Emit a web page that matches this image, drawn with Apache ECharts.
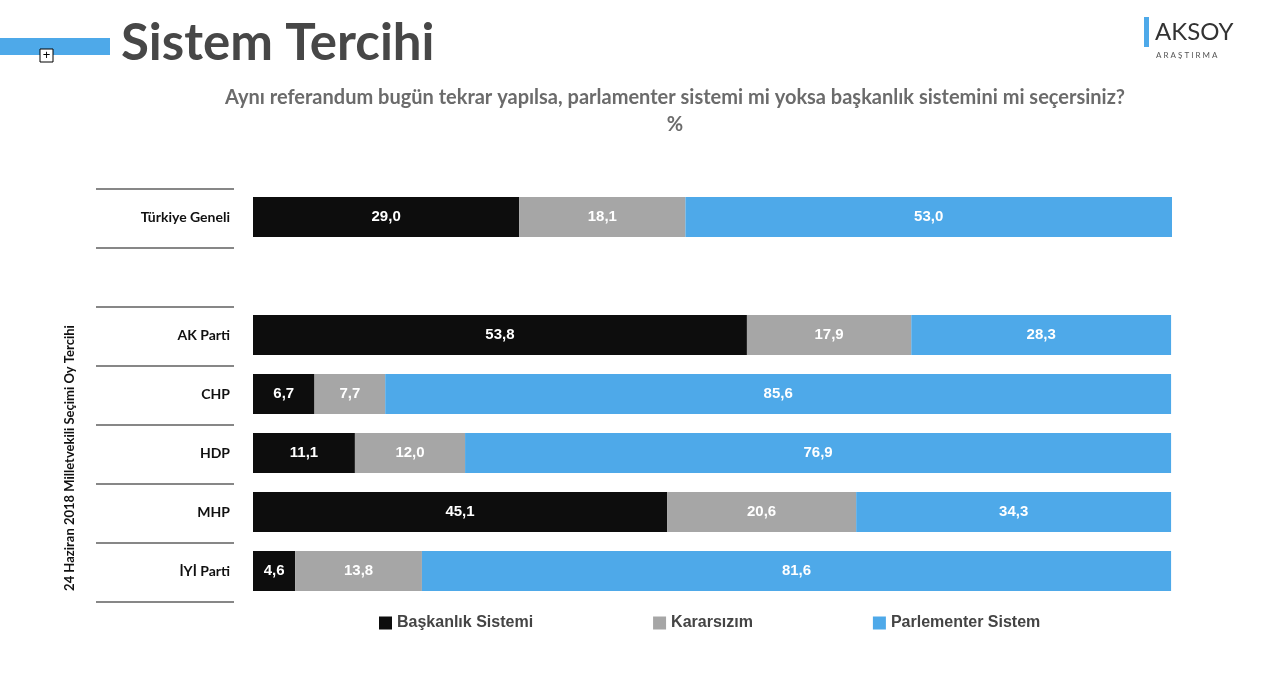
<!DOCTYPE html>
<html><head><meta charset="utf-8">
<script src="https://cdn.jsdelivr.net/npm/echarts@6/dist/echarts.min.js"></script>
<style>html,body{margin:0;padding:0;background:#fff}#c{width:1280px;height:673px}</style>
</head><body><div id="c"></div>
<script>
const categories = ['Türkiye Geneli', '', 'AK Parti', 'CHP', 'HDP', 'MHP', 'İYİ Parti'];
const baskanlik = [29.0, null, 53.8, 6.7, 11.1, 45.1, 4.6];
const kararsiz = [18.1, null, 17.9, 7.7, 12.0, 20.6, 13.8];
const parlementer = [53.0, null, 28.3, 85.6, 76.9, 34.3, 81.6];
const seriesNames = ['Başkanlık Sistemi', 'Kararsızım', 'Parlementer Sistem'];
const colors = ['#0d0d0d', '#a6a6a6', '#4ea9e9'];

const chart = echarts.init(document.getElementById('c'));
const lbl = {show: true, color: '#fff', fontWeight: 'bold', fontSize: 15, fontFamily: 'Liberation Sans',
  formatter: p => p.value == null ? '' : p.value.toFixed(1).replace('.', ',')};
const mk = (name, data, i) => ({name, type: 'bar', stack: 's', data, barWidth: 40,
  itemStyle: {color: colors[i]}, label: lbl});
const sepLines = [];
for (let i = 0; i < 8; i++) {
  const y = 189 + i * 59;
  sepLines.push({type: 'line', shape: {x1: 96, y1: y, x2: 234, y2: y}, style: {stroke: '#111', lineWidth: 1.2}});
}
chart.setOption({
  animation: false,
  grid: {left: 253, right: 108, top: 187.5, height: 413},
  xAxis: {type: 'value', min: 0, max: 100.1, show: false},
  yAxis: {type: 'category', data: categories, inverse: true,
    axisLine: {show: false}, axisTick: {show: false},
    axisLabel: {margin: 23, color: '#111', fontSize: 14, fontWeight: 'bold', fontFamily: 'Lato', align: 'right'}},
  legend: {top: 610, left: 374, itemGap: 120, itemWidth: 13, itemHeight: 13, icon: 'rect',
    data: seriesNames, textStyle: {fontSize: 16, fontWeight: 'bold', color: '#444', fontFamily: 'Liberation Sans'}},
  series: [mk(seriesNames[0], baskanlik, 0), mk(seriesNames[1], kararsiz, 1), mk(seriesNames[2], parlementer, 2)],
  graphic: [
    {type: 'rect', shape: {x: 0, y: 38, width: 110, height: 17}, style: {fill: '#4ea9e9'}},
    {type: 'rect', shape: {x: 40, y: 49, width: 13, height: 13}, style: {fill: '#fff', stroke: '#000', lineWidth: 1}},
    {type: 'text', x: 46.5, y: 55.5, style: {text: '+', fontSize: 13, fill: '#000', align: 'center', verticalAlign: 'middle'}},
    {type: 'text', x: 121, y: 44, style: {text: 'Sistem Tercihi', fontSize: 51, fontWeight: 'bold', fill: '#474747', fontFamily: 'Lato', verticalAlign: 'middle'}},
    {type: 'text', x: 675, y: 98, style: {text: 'Aynı referandum bugün tekrar yapılsa, parlamenter sistemi mi yoksa başkanlık sistemini mi seçersiniz?', fontSize: 20, fontWeight: 'bold', fill: '#6b6b6b', fontFamily: 'Lato', align: 'center', verticalAlign: 'middle'}},
    {type: 'text', x: 675, y: 125, style: {text: '%', fontSize: 20, fontWeight: 'bold', fill: '#6b6b6b', fontFamily: 'Lato', align: 'center', verticalAlign: 'middle'}},
    {type: 'text', x: 1155, y: 32, style: {text: 'AKSOY', fontSize: 24, fill: '#333', fontFamily: 'Lato', verticalAlign: 'middle'}},
    {type: 'rect', shape: {x: 1144, y: 17, width: 5, height: 30}, style: {fill: '#4ea9e9'}},
    {type: 'text', x: 1156, y: 55, style: {text: 'A R A Ş T I R M A', fontSize: 8, fill: '#555', fontFamily: 'Lato', verticalAlign: 'middle'}},
    {type: 'text', x: 70, y: 458, rotation: Math.PI / 2, style: {text: '24 Haziran 2018 Milletvekili Seçimi Oy Tercihi', fontSize: 13, fontWeight: 'bold', fill: '#111', fontFamily: 'Lato', align: 'center', verticalAlign: 'middle'}},
    ...sepLines
  ]
});
</script></body></html>
